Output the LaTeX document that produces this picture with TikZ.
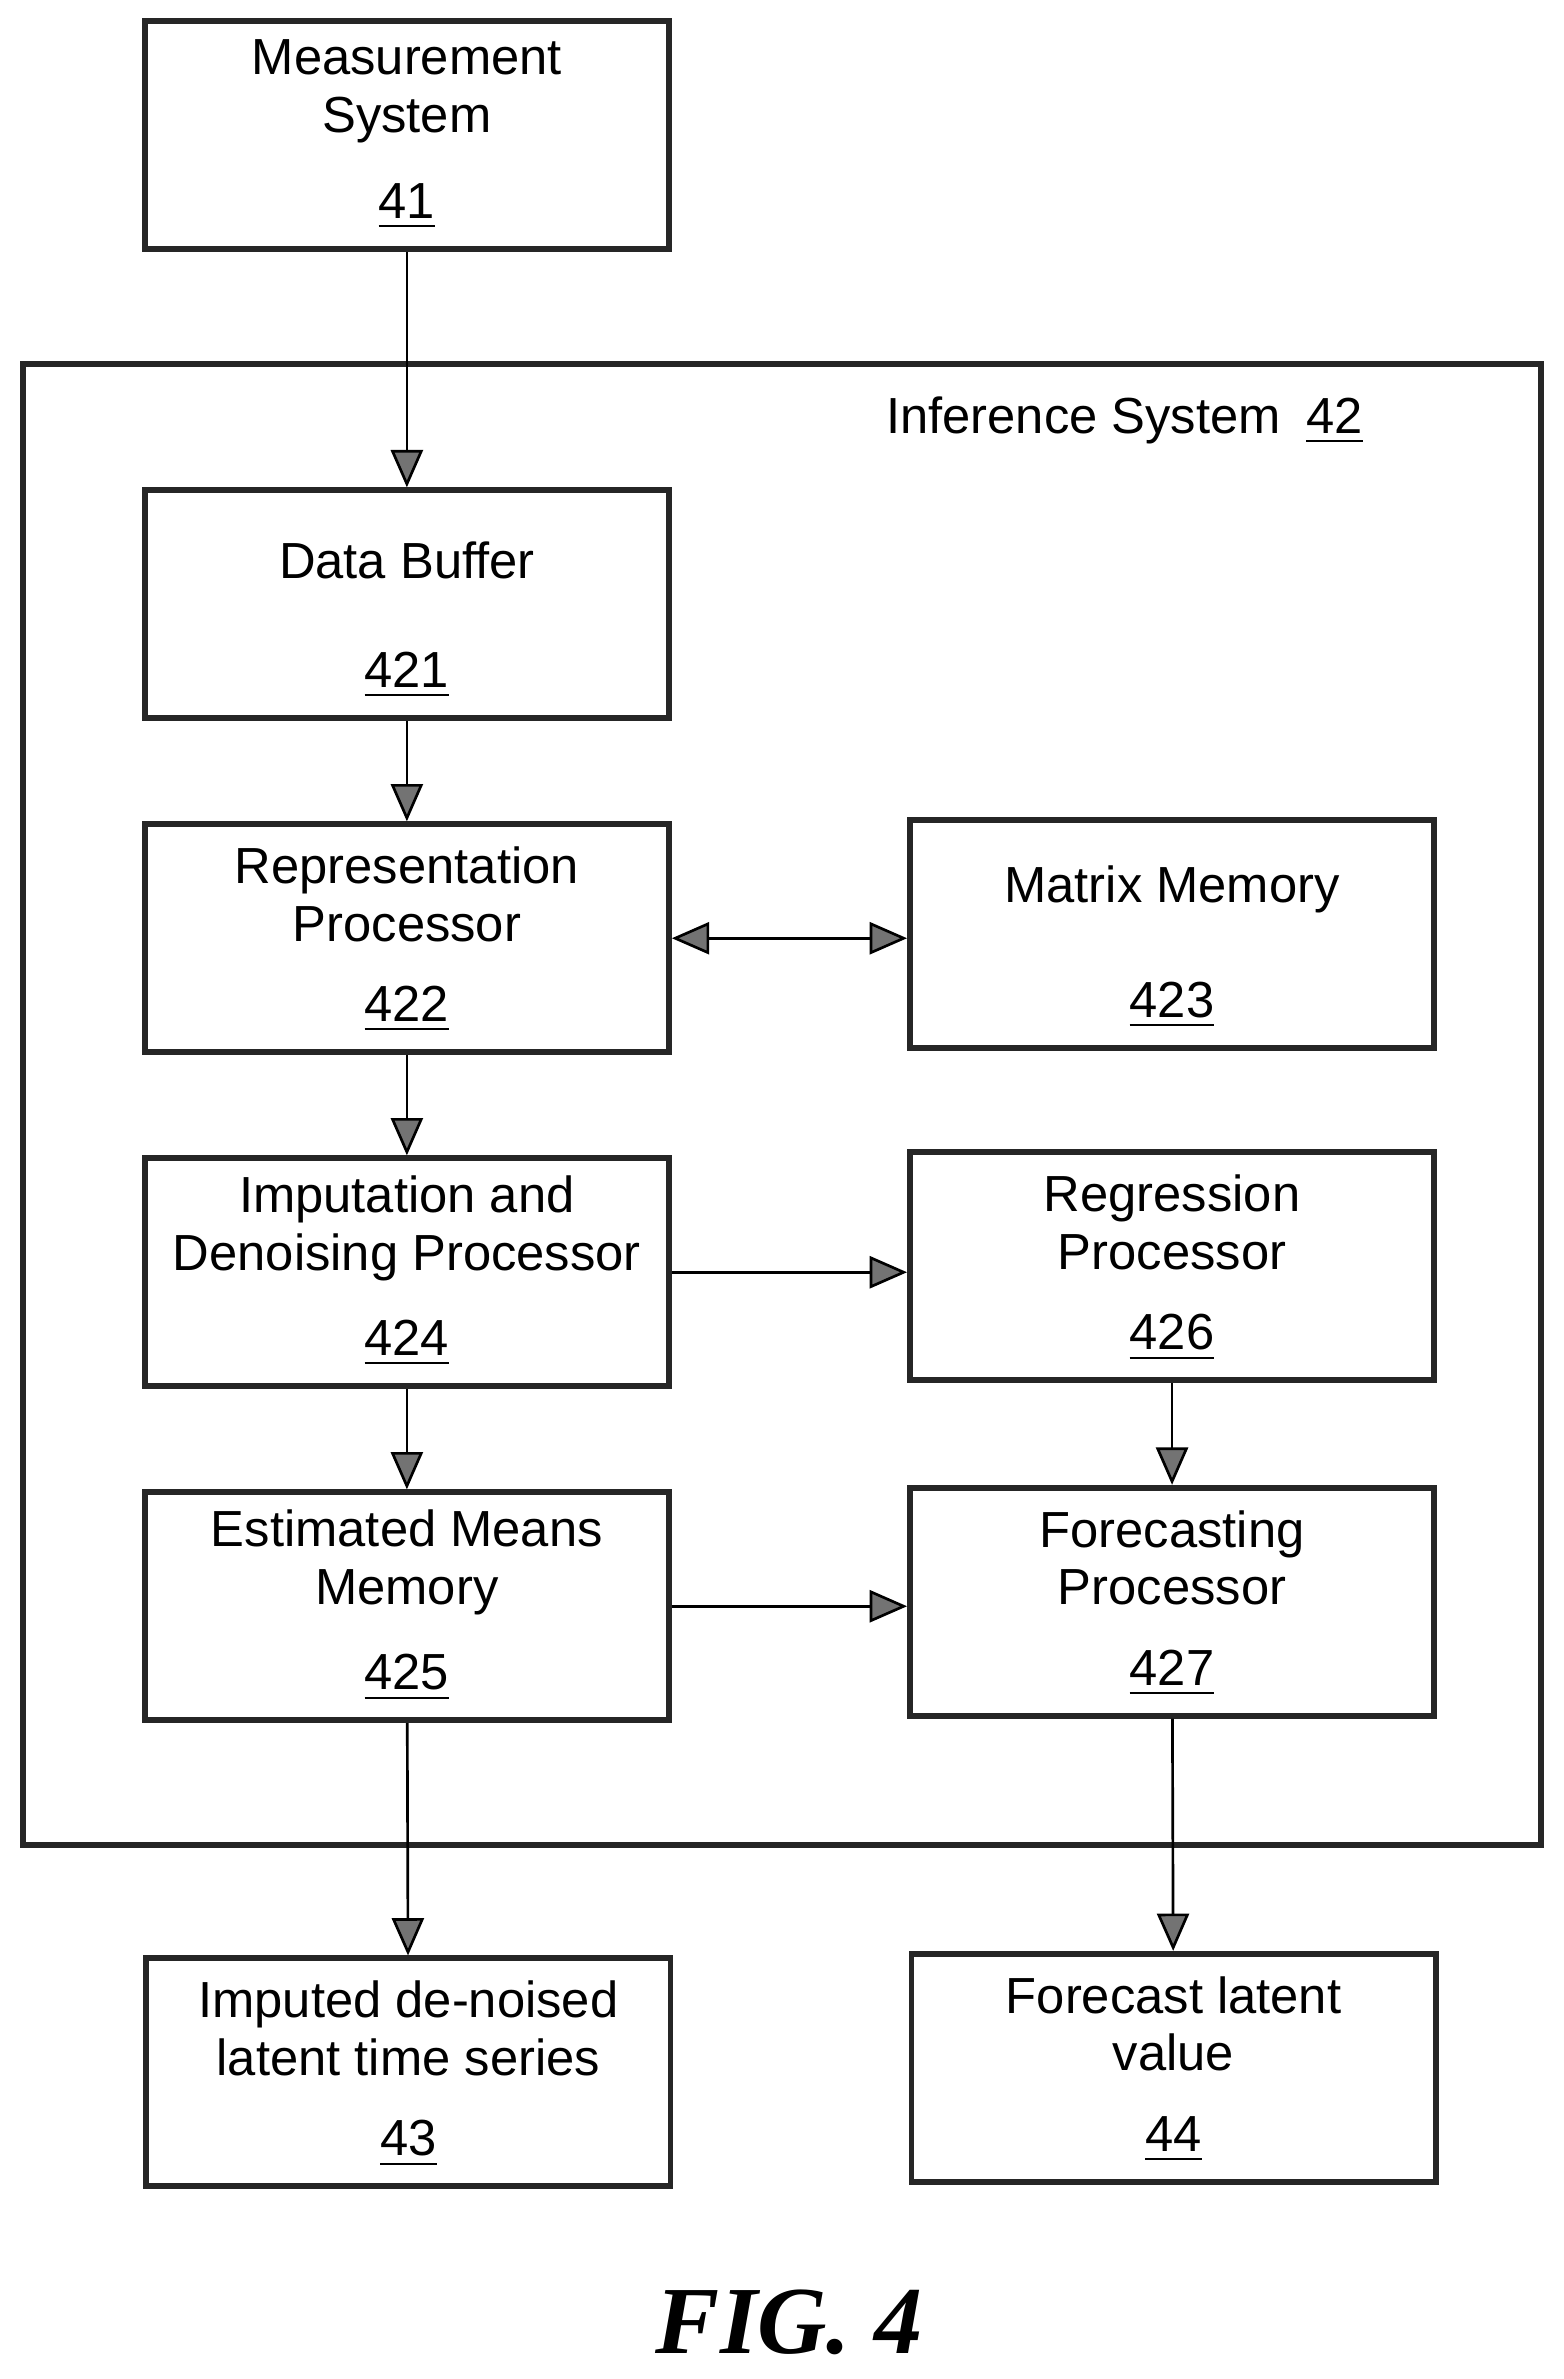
\documentclass[tikz,border=0pt]{standalone}
\usepackage{fontspec}
\setmainfont{Liberation Sans}
\newfontfamily\figfont{Liberation Serif}
\usetikzlibrary{arrows.meta,positioning}
\tikzset{
  blk/.style={draw=black!85, line width=1.1pt, minimum width=3.45cm, minimum height=1.5cm, inner sep=0pt},
  ttl/.style={align=center, font=\fontsize{9.5}{10.8}\selectfont},
  num/.style={font=\fontsize{9.5}{10.8}\selectfont},
  arr/.style={-{Triangle[length=7pt,width=6pt,fill=black!55]}, line width=0.5pt},
}
\newcommand{\blkbox}[5]{% name, x, y, title, number
  \node[blk] (#1) at (#2,#3) {};
  \path (#1.north) ++(0,48) node[ttl] {#4};
  \path (#1.south) ++(0,-30) node[num] {\underline{#5}};
}
\begin{document}
\begin{tikzpicture}[x=0.01cm,y=-0.01cm]
    \useasboundingbox (0,0) rectangle (1030,1567);
    % inference system frame
    \draw[draw=black!85, line width=1.1pt] (15,240) rectangle (1015,1215);
    \node[num, anchor=east] (inflbl) at (910,277) {Inference System\enspace\underline{42}};
    % boxes
    \blkbox{meas}{268}{89}{Measurement\\System}{41}
    \blkbox{dbuf}{268}{398}{Data Buffer}{421}
    \blkbox{repr}{268}{618}{Representation\\Processor}{422}
    \blkbox{mmem}{772}{615}{Matrix Memory}{423}
    \blkbox{impu}{268}{838}{Imputation and\\Denoising Processor}{424}
    \blkbox{regr}{772}{834}{Regression\\Processor}{426}
    \blkbox{emem}{268}{1058}{Estimated Means\\Memory}{425}
    \blkbox{fcst}{772}{1055}{Forecasting\\Processor}{427}
    \blkbox{ts}{269}{1365}{Imputed de-noised\\latent time series}{43}
    \blkbox{flv}{773}{1362}{Forecast latent\\value}{44}
    % connectors
    \draw[arr] (meas) -- (dbuf);
    \draw[arr] (dbuf) -- (repr);
    \draw[arr, {Triangle[length=7pt,width=6pt,fill=black!55]}-{Triangle[length=7pt,width=6pt,fill=black!55]}] (repr.east) -- (repr.east -| mmem.west);
    \draw[arr] (repr) -- (impu);
    \draw[arr] (impu.east) -- (impu.east -| regr.west);
    \draw[arr] (impu) -- (emem);
    \draw[arr] (regr) -- (fcst);
    \draw[arr] (emem.east) -- (emem.east -| fcst.west);
    \draw[arr] (emem) -- (ts);
    \draw[arr] (fcst) -- (flv);
    \node[font=\figfont\bfseries\itshape\fontsize{18}{20}\selectfont] (fig) at (520,1530) {FIG. 4};
\end{tikzpicture}
\end{document}
